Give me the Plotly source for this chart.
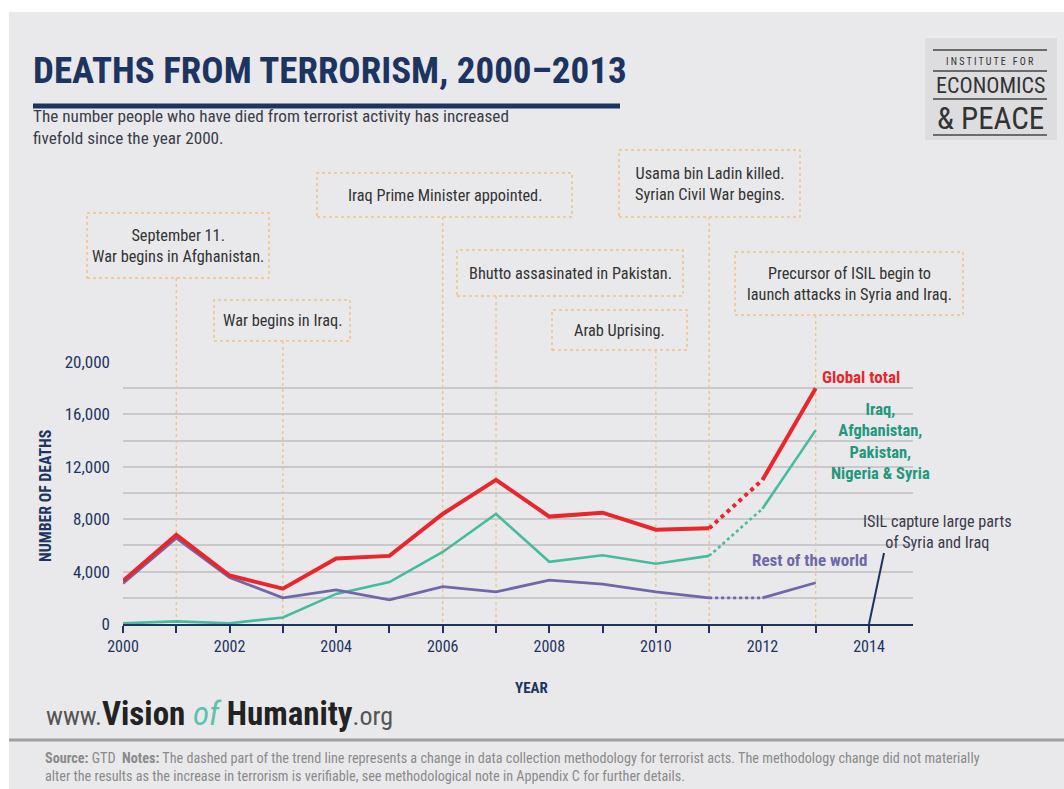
import plotly.graph_objects as go

# ---------------- data ----------------
years = list(range(2000, 2014))
global_total = [3300, 6800, 3700, 2700, 5000, 5200, 8400, 11000, 8200, 8500, 7200, 7300, 11000, 18000]
iraq_afg_pak_nig_syr = [50, 200, 50, 500, 2300, 3200, 5500, 8400, 4750, 5250, 4600, 5200, 8800, 14800]
rest_of_world = [3100, 6550, 3550, 2000, 2600, 1850, 2850, 2450, 3350, 3050, 2450, 2000, 2000, 3150]

x_tick_vals = [2000, 2002, 2004, 2006, 2008, 2010, 2012, 2014]
y_tick_vals = [0, 4000, 8000, 12000, 16000, 20000]
y_tick_text = ["0", "4,000", "8,000", "12,000", "16,000", "20,000"]

event_years = [2001, 2003, 2006, 2007, 2010, 2011, 2013]
event_texts = [
    "September 11.<br>War begins in Afghanistan.",
    "War begins in Iraq.",
    "Iraq Prime Minister appointed.",
    "Bhutto assasinated in Pakistan.",
    "Arab Uprising.",
    "Usama bin Ladin killed.<br>Syrian Civil War begins.",
    "Precursor of ISIL begin to<br>launch attacks in Syria and Iraq.",
]
# box extents in page pixels (x0, x1, y0, y1)
event_boxes = [
    (87, 269, 213, 278),
    (214, 350, 300, 341),
    (317, 572, 173, 217),
    (457, 683, 250, 296),
    (552, 687, 310, 350),
    (619, 800, 150, 217),
    (735, 963, 252, 315),
]
isil_year = 2014

# ---------------- layout constants ----------------
W, H = 1064, 789
L, R, T, B = 123, 913, 362, 624
XMIN = 2000
PX_PER_YEAR = (869 - 123) / 14.0
XMAX = XMIN + (R - L) / PX_PER_YEAR
YMAX = 20000

FONT = "Liberation Sans Narrow, Roboto Condensed, DejaVu Sans Condensed, Arial Narrow, sans-serif"
NAVY = "#1d3461"
RED = "#e8262b"
TEAL = "#45bc9e"
TEAL_TXT = "#23977c"
PURPLE = "#6e68a8"
ORANGE = "#f0c287"
BG = "#e9e9eb"


def pxx(x):
    return (x - L) / (R - L)


def pxy(y):
    return (B - y) / (B - T)


def yr(x):
    return (x - XMIN) / (XMAX - XMIN)


fig = go.Figure()


def add_series(vals, color, width):
    # solid, dashed (methodology change 2011-2012), solid
    segs = [(0, 12, "solid"), (11, 13, "dot"), (12, 14, "solid")]
    for a, b, dash in segs:
        fig.add_trace(go.Scatter(
            x=years[a:b], y=vals[a:b], mode="lines",
            line=dict(color=color, width=width, dash=dash),
            showlegend=False, hoverinfo="skip"))


add_series(iraq_afg_pak_nig_syr, TEAL, 2.6)
add_series(rest_of_world, PURPLE, 2.8)
add_series(global_total, RED, 4)

shapes = []
annotations = []

# white border strips
shapes.append(dict(type="rect", xref="paper", yref="paper", x0=pxx(0), x1=pxx(9), y0=pxy(H), y1=pxy(0),
                   fillcolor="white", line=dict(width=0), layer="above"))
shapes.append(dict(type="rect", xref="paper", yref="paper", x0=pxx(0), x1=pxx(W), y0=pxy(12), y1=pxy(0),
                   fillcolor="white", line=dict(width=0), layer="above"))

# event boxes and leader lines
for yv, txt, (bx0, bx1, by0, by1) in zip(event_years, event_texts, event_boxes):
    shapes.append(dict(type="rect", xref="paper", yref="paper",
                       x0=pxx(bx0), x1=pxx(bx1), y0=pxy(by1), y1=pxy(by0),
                       line=dict(color=ORANGE, width=1.5, dash="dot"), fillcolor="rgba(0,0,0,0)"))
    shapes.append(dict(type="line", xref="paper", yref="paper",
                       x0=yr(yv), x1=yr(yv), y0=pxy(by1), y1=0,
                       line=dict(color=ORANGE, width=1.3, dash="dot"), layer="below"))
    annotations.append(dict(xref="paper", yref="paper", x=pxx((bx0 + bx1) / 2), y=pxy((by0 + by1) / 2),
                            text=txt, showarrow=False, xanchor="center", yanchor="middle",
                            font=dict(family=FONT, size=16.3, color="#333333"), align="center"))

# ISIL capture line
shapes.append(dict(type="line", xref="paper", yref="paper", x0=yr(isil_year), x1=pxx(884),
                   y0=0, y1=pxy(553), line=dict(color=NAVY, width=2)))
annotations.append(dict(xref="paper", yref="paper", x=pxx(937), y=pxy(532),
                        text="ISIL capture large parts<br>of Syria and Iraq", showarrow=False,
                        xanchor="center", yanchor="middle", align="center",
                        font=dict(family=FONT, size=16.2, color="#3a3a4a")))

# series labels
annotations.append(dict(xref="paper", yref="paper", x=pxx(861), y=pxy(377), text="<b>Global total</b>",
                        showarrow=False, xanchor="center", yanchor="middle",
                        font=dict(family=FONT, size=17, color=RED)))
annotations.append(dict(xref="paper", yref="paper", x=pxx(880), y=pxy(441),
                        text="<b>Iraq,<br>Afghanistan,<br>Pakistan,<br>Nigeria &amp; Syria</b>",
                        showarrow=False, xanchor="center", yanchor="middle", align="center",
                        font=dict(family=FONT, size=16.5, color=TEAL_TXT)))
annotations.append(dict(xref="paper", yref="paper", x=pxx(810), y=pxy(560), text="<b>Rest of the world</b>",
                        showarrow=False, xanchor="center", yanchor="middle",
                        font=dict(family=FONT, size=17, color=PURPLE)))

# title block
annotations.append(dict(xref="paper", yref="paper", x=pxx(31), y=pxy(71), text="<b>DEATHS FROM TERRORISM, 2000–2013</b>",
                        showarrow=False, xanchor="left", yanchor="middle",
                        font=dict(family=FONT, size=37, color=NAVY)))
shapes.append(dict(type="line", xref="paper", yref="paper", x0=pxx(33), x1=pxx(620), y0=pxy(106), y1=pxy(106),
                   line=dict(color=NAVY, width=5)))
annotations.append(dict(xref="paper", yref="paper", x=pxx(31), y=pxy(127),
                        text="The number people who have died from terrorist activity has increased<br>fivefold since the year 2000.",
                        showarrow=False, xanchor="left", yanchor="middle", align="left",
                        font=dict(family=FONT, size=17.2, color="#3a3d4a")))

# logo
shapes.append(dict(type="rect", xref="paper", yref="paper", x0=pxx(925), x1=pxx(1057), y0=pxy(140), y1=pxy(38),
                   fillcolor="#dddddf", line=dict(width=0)))
for ly in [50, 71, 99, 135]:
    shapes.append(dict(type="line", xref="paper", yref="paper", x0=pxx(933), x1=pxx(1047), y0=pxy(ly), y1=pxy(ly),
                       line=dict(color="#444444", width=1.5)))
annotations.append(dict(xref="paper", yref="paper", x=pxx(990), y=pxy(61), text="I N S T I T U T E   F O R",
                        showarrow=False, xanchor="center", yanchor="middle",
                        font=dict(family=FONT, size=10, color="#333333")))
annotations.append(dict(xref="paper", yref="paper", x=pxx(990), y=pxy(86), text="ECONOMICS",
                        showarrow=False, xanchor="center", yanchor="middle",
                        font=dict(family=FONT, size=22, color="#333333")))
annotations.append(dict(xref="paper", yref="paper", x=pxx(990), y=pxy(118), text="&amp; PEACE",
                        showarrow=False, xanchor="center", yanchor="middle",
                        font=dict(family=FONT, size=31, color="#333333")))

# axis titles
annotations.append(dict(xref="paper", yref="paper", x=pxx(45), y=pxy(496), text="<b>NUMBER OF DEATHS</b>",
                        showarrow=False, textangle=-90, xanchor="center", yanchor="middle",
                        font=dict(family=FONT, size=15.8, color=NAVY)))
annotations.append(dict(xref="paper", yref="paper", x=pxx(531), y=pxy(688), text="<b>YEAR</b>",
                        showarrow=False, xanchor="center", yanchor="middle",
                        font=dict(family=FONT, size=15, color=NAVY)))

# website
annotations.append(dict(xref="paper", yref="paper", x=pxx(44), y=pxy(713),
                        text=("<span style='font-size:26px;color:#555'>www.</span>"
                              "<b><span style='font-size:33px;color:#222'>Vision</span></b>"
                              "<span style='font-size:33px'> </span>"
                              "<i><span style='font-size:33px;color:#5cc2ad'>of</span></i>"
                              "<span style='font-size:33px'> </span>"
                              "<b><span style='font-size:33px;color:#222'>Humanity</span></b>"
                              "<span style='font-size:26px;color:#555'>.org</span>"),
                        showarrow=False, xanchor="left", yanchor="middle",
                        font=dict(family=FONT, size=26, color="#555555")))

# footer
shapes.append(dict(type="line", xref="paper", yref="paper", x0=pxx(9), x1=pxx(W), y0=pxy(740), y1=pxy(740),
                   line=dict(color="#a0a0a0", width=3)))
annotations.append(dict(xref="paper", yref="paper", x=pxx(43), y=pxy(767),
                        text=("<b>Source:</b> GTD  <b>Notes:</b> The dashed part of the trend line represents a change in data collection methodology for terrorist acts. The methodology change did not materially<br>"
                              "alter the results as the increase in terrorism is verifiable, see methodological note in Appendix C for further details."),
                        showarrow=False, xanchor="left", yanchor="middle", align="left",
                        font=dict(family=FONT, size=14.2, color="#8a8a8a")))

fig.update_layout(
    width=W, height=H,
    margin=dict(l=L, r=W - R, t=T, b=H - B, pad=0),
    paper_bgcolor=BG, plot_bgcolor="rgba(0,0,0,0)",
    showlegend=False,
    shapes=shapes, annotations=annotations,
    xaxis=dict(range=[XMIN, XMAX], tickvals=x_tick_vals, ticktext=[str(v) for v in x_tick_vals],
               showgrid=False, zeroline=False, showline=True, linecolor=NAVY, linewidth=2,
               ticks="outside", ticklen=7, tickwidth=2, tickcolor=NAVY,
               minor=dict(dtick=1, tick0=2000, ticks="outside", ticklen=7, tickwidth=2, tickcolor=NAVY),
               tickfont=dict(family=FONT, size=16, color=NAVY)),
    yaxis=dict(range=[0, YMAX], tickvals=y_tick_vals, ticktext=y_tick_text,
               showgrid=True, gridcolor="#c9c9cb", gridwidth=1.5, zeroline=False, showline=False,
               ticks="", ticklabelstandoff=12,
               minor=dict(dtick=2000, tick0=0, showgrid=True, gridcolor="#c9c9cb", gridwidth=1.5),
               tickfont=dict(family=FONT, size=17, color=NAVY)),
)

fig.write_html("out.html")
